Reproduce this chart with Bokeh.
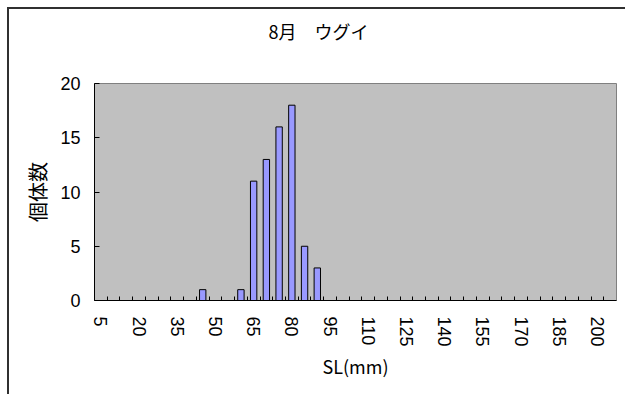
from bokeh.plotting import figure
from bokeh.models import Range1d, FixedTicker, ColumnDataSource, Label
from bokeh.embed import file_html
from bokeh.resources import INLINE

# ---- data ----
lengths = [5, 10, 15, 20, 25, 30, 35, 40, 45, 50, 55, 60, 65, 70, 75, 80, 85, 90, 95, 100,
           105, 110, 115, 120, 125, 130, 135, 140, 145, 150, 155, 160, 165, 170, 175, 180,
           185, 190, 195, 200, 205]
counts = [0, 0, 0, 0, 0, 0, 0, 0, 1, 0, 0, 1, 11, 13, 16, 18, 5, 3, 0, 0,
          0, 0, 0, 0, 0, 0, 0, 0, 0, 0, 0, 0, 0, 0, 0, 0,
          0, 0, 0, 0, 0]
label_ticks = [5, 20, 35, 50, 65, 80, 95, 110, 125, 140, 155, 170, 185, 200]
y_ticks = [0, 5, 10, 15, 20]
title_text = "8月\u3000ウグイ"
x_title = "SL(mm)"
y_title = "個体数"

bin_w = lengths[1] - lengths[0]
boundaries = [v + bin_w / 2 for v in lengths[:-1]]

src = ColumnDataSource(data=dict(x=lengths, top=counts))

p = figure(width=618, height=387,
           x_range=Range1d(lengths[0] - bin_w / 2, lengths[-1] + bin_w / 2),
           y_range=Range1d(0, 20),
           output_backend="svg", toolbar_location=None,
           min_border_left=85, min_border_right=11, min_border_top=74, min_border_bottom=96,
           margin=(7, 0, 0, 7),
           styles={"border-top": "2px solid #303030", "border-left": "2px solid #303030"})

p.background_fill_color = "#c0c0c0"
p.border_fill_color = "white"
p.outline_line_color = "#808080"
p.outline_line_width = 1
p.xgrid.visible = False
p.ygrid.visible = False

p.vbar(x="x", top="top", bottom=0, width=bin_w / 2, source=src,
       fill_color="#9999ff", line_color="black", line_width=1)

# x axis
xa = p.xaxis[0]
xa.ticker = FixedTicker(ticks=label_ticks, minor_ticks=boundaries)
xa.major_tick_in = 0
xa.major_tick_out = 0
xa.minor_tick_in = 4
xa.minor_tick_out = 0
xa.minor_tick_line_color = "black"
xa.axis_line_color = "black"
xa.major_label_orientation = "vertical"
xa.major_label_standoff = 16
xa.major_label_text_font = "Liberation Sans"
xa.major_label_text_font_size = "18px"
xa.major_label_text_color = "black"
xa.axis_label = x_title
xa.axis_label_text_font = "Noto Sans CJK JP"
xa.axis_label_text_font_size = "18px"
xa.axis_label_text_font_style = "normal"
xa.axis_label_text_color = "black"
xa.axis_label_standoff = 3

# y axis
ya = p.yaxis[0]
ya.ticker = FixedTicker(ticks=y_ticks)
ya.minor_tick_line_color = None
ya.major_tick_in = 5
ya.major_tick_out = 0
ya.major_tick_line_color = "black"
ya.axis_line_color = "black"
ya.major_label_standoff = 14
ya.major_label_text_font = "Liberation Sans"
ya.major_label_text_font_size = "18px"
ya.major_label_text_color = "black"
ya.axis_label = y_title
ya.axis_label_text_font = "Noto Sans CJK JP"
ya.axis_label_text_font_size = "20px"
ya.axis_label_text_font_style = "normal"
ya.axis_label_text_color = "black"
ya.axis_label_standoff = 5

# chart title
p.add_layout(Label(x=224, y=53, x_units="screen", y_units="screen", text=title_text,
                   text_align="center", text_baseline="middle",
                   text_font="Noto Sans CJK JP", text_font_size="18px",
                   text_color="black"), "above")

open("out.html", "w").write(file_html(p, INLINE))
